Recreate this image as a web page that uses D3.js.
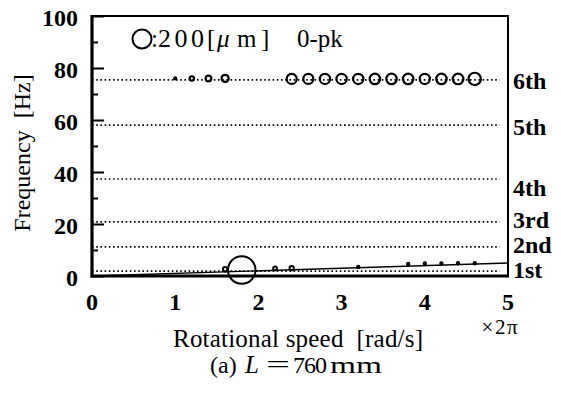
<!DOCTYPE html>
<html><head><meta charset="utf-8">
<script src="https://cdn.jsdelivr.net/npm/d3@7"></script>
<style>body{margin:0;background:#fff}svg{display:block}text{font-family:"Liberation Serif","Times New Roman",serif;fill:#000}</style>
</head><body><svg id="c" width="561" height="393"></svg>
<script>
// Data
const modeNames = ["1st","2nd","3rd","4th","5th","6th"];
const modeFreqs = [1.9, 11.2, 20.8, 37.3, 58.0, 75.4];
const xTicks = [0,1,2,3,4,5];
const yTicks = [0,20,40,60,80,100];
const yMinorTicks = [10,30,50,70,90];
// 6th mode response (speed ×2π rad/s, frequency Hz, amplitude μm 0-pk)
const speed6 = [1.0,1.2,1.4,1.6,2.4,2.6,2.8,3.0,3.2,3.4,3.6,3.8,4.0,4.2,4.4,4.6];
const freq6  = [76,76,76,76,75.8,75.8,75.8,75.8,75.8,75.8,75.8,75.8,75.8,75.8,75.8,75.8];
const amp6   = [20,45,60,75,105,105,108,108,108,110,110,110,108,110,112,130];
// 1st mode response
const speed1 = [1.6,1.8,2.2,2.4,3.2,3.8,4.0,4.2,4.4,4.6];
const freq1  = [2.6,2.3,2.9,3.0,3.5,4.6,4.8,4.8,4.9,4.9];
const amp1   = [45,290,40,45,25,25,25,25,25,25];
const legendAmp = 200;

const svg = d3.select("#c");
const x = d3.scaleLinear().domain([0,5]).range([92,508]);
const y = d3.scaleLinear().domain([0,100]).range([276,16]);
const r = d3.scaleLinear().domain([0,200]).range([0,9.5]);

// dotted mode lines
svg.selectAll("line.mode").data(modeFreqs).join("line")
  .attr("x1", x(0)).attr("x2", x(4.9))
  .attr("y1", d=>y(d)).attr("y2", d=>y(d))
  .attr("stroke","#000").attr("stroke-width",1.7).attr("stroke-dasharray","1.6,2.6");

// 1x line
svg.append("line").attr("x1",x(0)).attr("y1",y(0)).attr("x2",x(5)).attr("y2",y(5))
  .attr("stroke","#000").attr("stroke-width",1.4);

// frame
svg.append("rect").attr("x",x(0)).attr("y",y(100)).attr("width",x(5)-x(0)).attr("height",y(0)-y(100))
  .attr("fill","none").attr("stroke","#000").attr("stroke-width",2);
svg.append("line").attr("x1",x(0)).attr("x2",x(0)).attr("y1",y(100)-1).attr("y2",y(0)+1.5).attr("stroke","#000").attr("stroke-width",3.2);
svg.append("line").attr("x1",x(0)-1.5).attr("x2",x(5)+1).attr("y1",y(0)).attr("y2",y(0)).attr("stroke","#000").attr("stroke-width",3.2);

// y axis (ticks inward)
const gy = svg.append("g").attr("transform",`translate(${x(0)},0)`)
  .call(d3.axisRight(y).tickValues(yTicks).tickSize(12).tickFormat(""));
gy.select(".domain").remove();
gy.selectAll("line").attr("stroke-width",2);
const gym = svg.append("g").attr("transform",`translate(${x(0)},0)`)
  .call(d3.axisRight(y).tickValues(yMinorTicks).tickSize(6).tickFormat(""));
gym.select(".domain").remove();
gym.selectAll("line").attr("stroke-width",2);

svg.selectAll("text.yt").data(yTicks).join("text")
  .attr("x", 78).attr("y", d=>y(d)+2).attr("dy","0.35em")
  .attr("text-anchor","end").attr("font-size",24).attr("font-weight","bold").text(d=>d);
svg.selectAll("text.xt").data(xTicks).join("text")
  .attr("x", d=>x(d)).attr("y", 310)
  .attr("text-anchor","middle").attr("font-size",24).attr("font-weight","bold").text(d=>d);

svg.append("text").attr("x",519).attr("y",334).attr("text-anchor","end").attr("font-size",21)
  .attr("letter-spacing",1.5).text("×2π");

// mode labels
const nudge = [-1,-2,-2,9,1,1];
svg.selectAll("text.ml").data(modeNames).join("text")
  .attr("x",513).attr("y",(d,i)=>y(modeFreqs[i])+nudge[i]).attr("dy","0.35em")
  .attr("font-size",24).attr("font-weight","bold").text(d=>d);

// data circles
svg.selectAll("circle.m6").data(speed6).join("circle")
  .attr("cx",d=>x(d)).attr("cy",(d,i)=>y(freq6[i])).attr("r",(d,i)=>r(amp6[i]))
  .attr("fill","none").attr("stroke","#000").attr("stroke-width",2.2);
svg.selectAll("circle.m1").data(speed1).join("circle")
  .attr("cx",d=>x(d)).attr("cy",(d,i)=>y(freq1[i])).attr("r",(d,i)=>r(amp1[i]))
  .attr("fill","none").attr("stroke","#000").attr("stroke-width",2);

// legend
svg.append("circle").attr("cx",142).attr("cy",39).attr("r",r(legendAmp))
  .attr("fill","none").attr("stroke","#000").attr("stroke-width",2);
svg.append("text").attr("x",151).attr("y",47).attr("font-size",25).text(":");
svg.append("text").attr("x",158).attr("y",47).attr("font-size",26).attr("textLength",46).text("200");
svg.append("text").attr("x",207).attr("y",47).attr("font-size",25).text("[");
svg.append("text").attr("x",217).attr("y",47).attr("font-size",25).attr("font-style","italic").text("μ");
svg.append("text").attr("x",237).attr("y",47).attr("font-size",25).text("m");
svg.append("text").attr("x",261).attr("y",47).attr("font-size",25).text("]");
svg.append("text").attr("x",297).attr("y",47).attr("font-size",25).text("0-pk");

// axis titles
svg.append("text").attr("transform","translate(30,153) rotate(-90)").attr("text-anchor","middle")
  .attr("font-size",24).text("Frequency\u00a0\u00a0[Hz]");
svg.append("text").attr("x",173).attr("y",347).attr("font-size",25).attr("textLength",250)
  .text("Rotational speed\u00a0\u00a0[rad/s]");
svg.append("text").attr("x",210).attr("y",373).attr("font-size",24).text("(a)");
svg.append("text").attr("x",245).attr("y",373).attr("font-size",25).attr("font-style","italic").text("L");
svg.append("text").attr("x",266).attr("y",373).attr("font-size",25).attr("textLength",24).attr("lengthAdjust","spacingAndGlyphs").text("=");
svg.append("text").attr("x",293).attr("y",373).attr("font-size",24).attr("textLength",34).text("760");
svg.append("text").attr("x",330).attr("y",373).attr("font-size",24).attr("textLength",52).attr("lengthAdjust","spacingAndGlyphs").text("mm");
</script></body></html>
